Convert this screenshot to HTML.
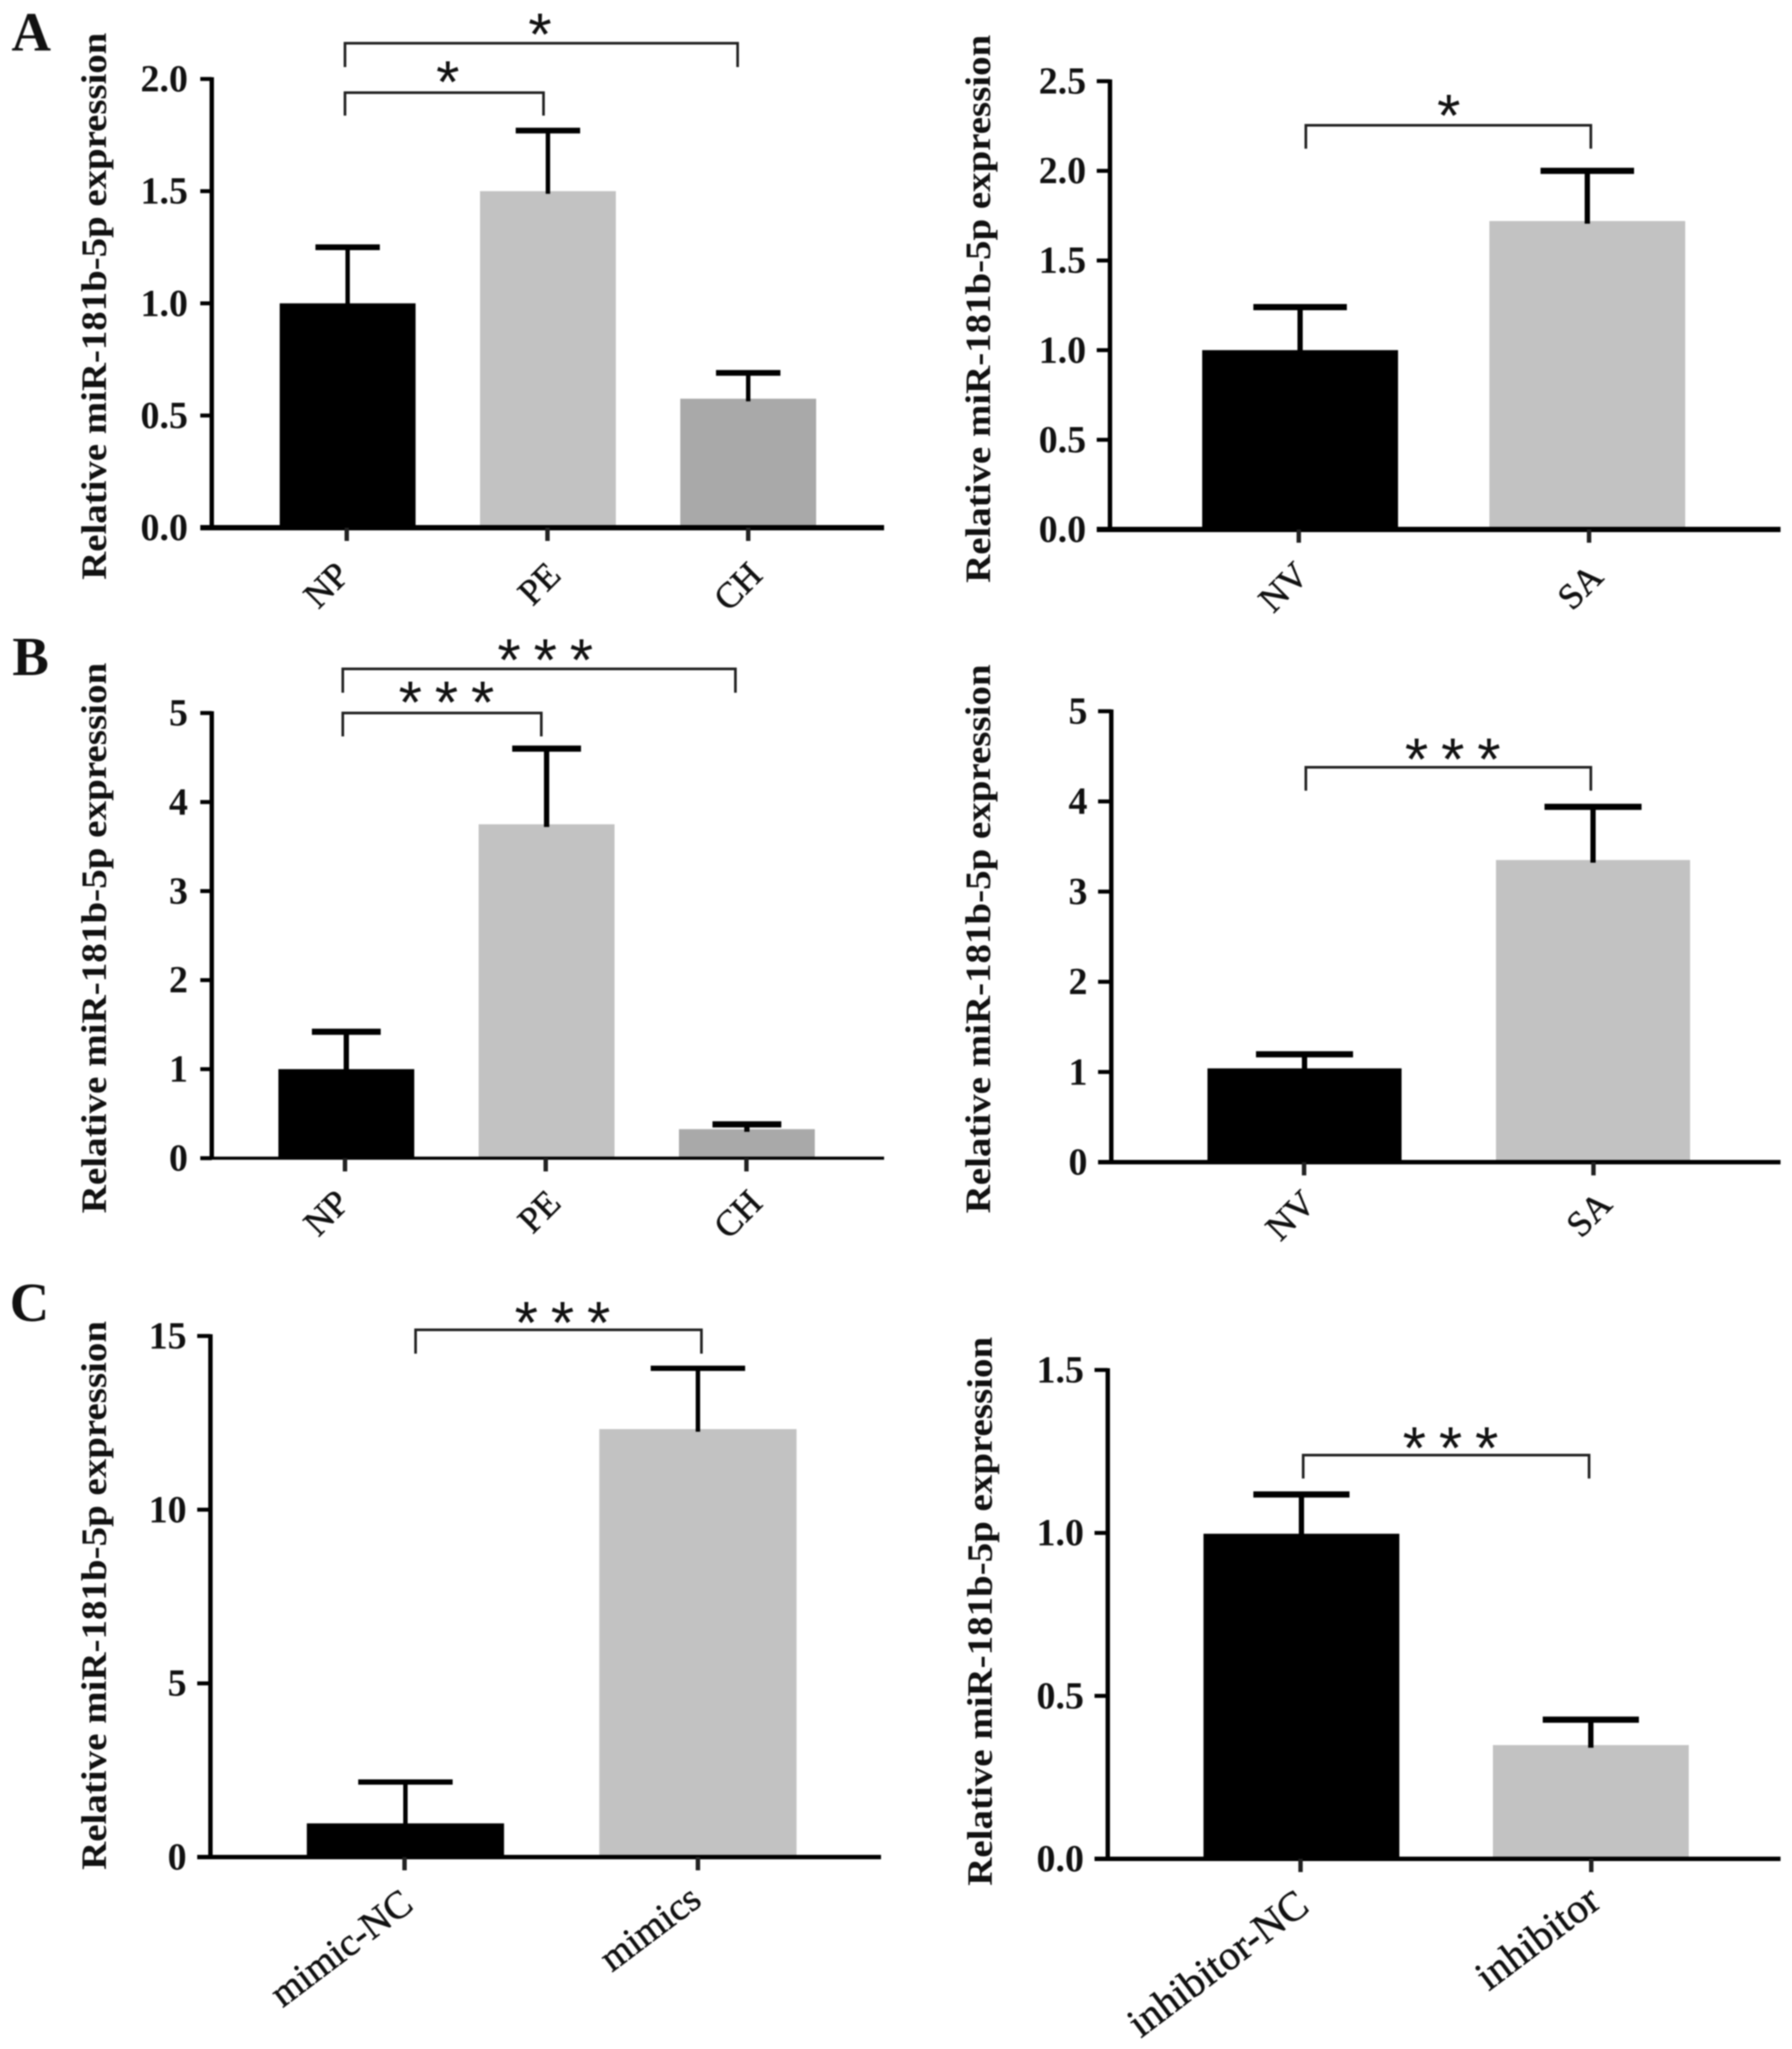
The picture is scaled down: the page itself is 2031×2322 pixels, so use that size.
<!DOCTYPE html>
<html>
<head>
<meta charset="utf-8">
<title>Relative miR-181b-5p expression</title>
<style>
html,body{margin:0;padding:0;background:#fff;width:2031px;height:2322px;overflow:hidden}
svg{display:block;filter:blur(0.8px)}
text{font-family:"Liberation Serif",serif;fill:#111}
</style>
</head>
<body>
<svg id="figure" width="2031" height="2322" viewBox="0 0 2031 2322" xmlns="http://www.w3.org/2000/svg">
<text x="13" y="57" font-size="62" font-weight="bold">A</text>
<text x="14" y="765" font-size="62" font-weight="bold">B</text>
<text x="11" y="1497" font-size="62" font-weight="bold">C</text>
</svg>
<script>
const yTitle = "Relative miR-181b-5p expression";

const a1Categories = ["NP", "PE", "CH"];
const a1Values = [1.0, 1.5, 0.575];
const a1ErrorTops = [1.25, 1.77, 0.69];
const a1Ticks = ["0.0", "0.5", "1.0", "1.5", "2.0"];

const a2Categories = ["NV", "SA"];
const a2Values = [1.0, 1.72];
const a2ErrorTops = [1.24, 2.0];
const a2Ticks = ["0.0", "0.5", "1.0", "1.5", "2.0", "2.5"];

const b1Categories = ["NP", "PE", "CH"];
const b1Values = [1.0, 3.75, 0.326];
const b1ErrorTops = [1.42, 4.6, 0.38];
const b1Ticks = ["0", "1", "2", "3", "4", "5"];

const b2Categories = ["NV", "SA"];
const b2Values = [1.04, 3.35];
const b2ErrorTops = [1.196, 3.94];
const b2Ticks = ["0", "1", "2", "3", "4", "5"];

const c1Categories = ["mimic-NC", "mimics"];
const c1Values = [0.97, 12.32];
const c1ErrorTops = [2.16, 14.07];
const c1Ticks = ["0", "5", "10", "15"];

const c2Categories = ["inhibitor-NC", "inhibitor"];
const c2Values = [0.9975, 0.349];
const c2ErrorTops = [1.118, 0.427];
const c2Ticks = ["0.0", "0.5", "1.0", "1.5"];

const barColors = ["#000000", "#c2c2c2", "#a9a9a9"];

const charts = [
  {id:"a-left", cats:a1Categories, vals:a1Values, errs:a1ErrorTops, ticks:a1Ticks,
   axisX:240, base:598, top:89.5, xEnd:1002, first:394, step:227, tickFirst:393, tickStep:227.5, barW:154, capW:73, capH:6.5, stemW:5, xStroke:6, tickLen:13,
   labelSize:41, labelAngle:45, labelDx:[5,17,18], labelDy:[56,56,56],
   titleX:120, titleMid:347, titleLen:620,
   brackets:[{x1:391,x2:836,y:49,yEnd:76,label:"*",labelX:612,labelY:30},
             {x1:391,x2:616,y:105,yEnd:131,label:"*",labelX:507.5,labelY:84}]},
  {id:"a-right", cats:a2Categories, vals:a2Values, errs:a2ErrorTops, ticks:a2Ticks,
   axisX:1258, base:600, top:92, xEnd:2018, first:1473.5, step:325.5, tickFirst:1472, tickStep:329, barW:222, capW:106, capH:7, stemW:6, xStroke:6, tickLen:15,
   labelSize:41, labelAngle:45, labelDx:[13,18], labelDy:[54,56],
   titleX:1122, titleMid:350, titleLen:621,
   brackets:[{x1:1480,x2:1803,y:142,yEnd:168.5,label:"*",labelX:1642,labelY:122}]},
  {id:"b-left", cats:b1Categories, vals:b1Values, errs:b1ErrorTops, ticks:b1Ticks,
   axisX:240, base:1312.5, top:808, xEnd:1002, first:392.5, step:227, tickFirst:391, tickStep:227.5, barW:154, capW:78, capH:7, stemW:6, xStroke:3.5, tickLen:13,
   labelSize:41, labelAngle:45, labelDx:[7,19,20], labelDy:[53,53,53],
   titleX:120, titleMid:1063, titleLen:624,
   brackets:[{x1:388.5,x2:833.5,y:758,yEnd:785,label:"***",labelX:618,labelY:739},
             {x1:388.5,x2:613.5,y:808,yEnd:834.5,label:"***",labelX:506,labelY:787}]},
  {id:"b-right", cats:b2Categories, vals:b2Values, errs:b2ErrorTops, ticks:b2Ticks,
   axisX:1259.5, base:1317, top:806, xEnd:2018, first:1478.5, step:327, tickFirst:1478, tickStep:328, barW:220, capW:110, capH:7, stemW:6, xStroke:5, tickLen:15,
   labelSize:41, labelAngle:45, labelDx:[15,23], labelDy:[49,50],
   titleX:1122, titleMid:1064, titleLen:622,
   brackets:[{x1:1480,x2:1803,y:869.5,yEnd:896,label:"***",labelX:1646.5,labelY:851.5}]},
  {id:"c-left", cats:c1Categories, vals:c1Values, errs:c1ErrorTops, ticks:c1Ticks,
   axisX:238.5, base:2104.5, top:1514, xEnd:998.5, first:459.5, step:331.5, tickFirst:458.5, tickStep:332.5, barW:223.5, capW:107, capH:6, stemW:5, xStroke:5, tickLen:15,
   labelSize:44, labelAngle:37, labelDx:[12,6], labelDy:[58,53],
   titleX:120, titleMid:1808, titleLen:622,
   brackets:[{x1:471,x2:795,y:1507,yEnd:1534,label:"***",labelX:637.5,labelY:1490}]},
  {id:"c-right", cats:c2Categories, vals:c2Values, errs:c2ErrorTops, ticks:c2Ticks,
   axisX:1255.5, base:2106.5, top:1552.5, xEnd:2018, first:1475, step:328, tickFirst:1474, tickStep:329.5, barW:222, capW:109, capH:7, stemW:6, xStroke:5, tickLen:15,
   labelSize:47, labelAngle:37, labelDx:[12,13], labelDy:[58,53],
   titleX:1124, titleMid:1826, titleLen:622,
   brackets:[{x1:1477,x2:1801,y:1649,yEnd:1675.5,label:"***",labelX:1644,labelY:1632}]}
];

const NS = "http://www.w3.org/2000/svg";
const root = document.getElementById("figure");

function add(parent, tag, attrs, txt) {
  const el = document.createElementNS(NS, tag);
  for (const k in attrs) el.setAttribute(k, attrs[k]);
  if (txt !== undefined) el.textContent = txt;
  parent.appendChild(el);
  return el;
}

charts.forEach(function (c) {
  const g = add(root, "g", {});
  
  

  const yMax = parseFloat(c.ticks[c.ticks.length - 1]);
  const yScale = function (v) { return c.base - (v / yMax) * (c.base - c.top); };
  const xScale = function (i) { return c.first + i * c.step; };
  const tickScale = function (i) { return c.tickFirst + i * c.tickStep; };

  c.vals.forEach(function (v, i) {
    const cx = xScale(i);
    const bar = add(g, "rect", {x: cx - c.barW / 2, y: yScale(v), width: c.barW, height: c.base - yScale(v), fill: barColors[i]});
    
    

    const stem = add(g, "line", {x1: cx, x2: cx, y1: yScale(c.errs[i]), y2: yScale(v) + 3, stroke: "#000", "stroke-width": c.stemW});
    
    

    const cap = add(g, "rect", {x: cx - c.capW / 2, y: yScale(c.errs[i]) - c.capH / 2, width: c.capW, height: c.capH, fill: "#000"});
    
    
  });

  const yAxis = add(g, "line", {x1: c.axisX, x2: c.axisX, y1: c.top - 2, y2: c.base, stroke: "#000", "stroke-width": 5});
  
  

  const xAxis = add(g, "line", {x1: c.axisX - c.tickLen, x2: c.xEnd, y1: c.base, y2: c.base, stroke: "#000", "stroke-width": c.xStroke});
  
  

  c.ticks.forEach(function (t) {
    const y = yScale(parseFloat(t));
    const mark = add(g, "line", {x1: c.axisX - c.tickLen, x2: c.axisX, y1: y, y2: y, stroke: "#000", "stroke-width": 4.5});
    
    

    const lab = add(g, "text", {x: c.axisX - 27, y: y + 14, "text-anchor": "end", "font-size": 43, "font-weight": "bold"}, t);
    
    
  });

  c.cats.forEach(function (name, i) {
    const x = tickScale(i);
    const mark = add(g, "line", {x1: x, x2: x, y1: c.base, y2: c.base + 15, stroke: "#222", "stroke-width": 5});
    
    

    const ax = x + c.labelDx[i], ay = c.base + c.labelDy[i];
    const lab = add(g, "text", {x: ax, y: ay, "text-anchor": "end", "font-size": c.labelSize, stroke: "#111", "stroke-width": 0.6, transform: "rotate(-" + c.labelAngle + " " + ax + " " + ay + ")"}, name);
    
    
  });

  const title = add(g, "text", {x: c.titleX, y: c.titleMid, "text-anchor": "middle", "font-size": 40, "font-weight": "bold",
    textLength: c.titleLen, lengthAdjust: "spacingAndGlyphs", transform: "rotate(-90 " + c.titleX + " " + c.titleMid + ")"}, yTitle);
  
  

  c.brackets.forEach(function (b) {
    const path = add(g, "path", {d: "M" + b.x1 + " " + b.yEnd + "V" + b.y + "H" + b.x2 + "V" + b.yEnd, fill: "none", stroke: "#222", "stroke-width": 3});
    
    

    const fs = 68;
    const n = b.label.length;
    const xs = [];
    for (let k = 0; k < n; k++) xs.push(b.labelX + (k - (n - 1) / 2) * 41);
    const star = add(g, "text", {x: xs.join(" "), y: b.labelY + fs * 0.47, "text-anchor": "middle", "font-size": fs}, b.label);
    star.setAttribute('style', 'font-family:"Liberation Sans",sans-serif');
    
    
  });
});
</script>
</body>
</html>
